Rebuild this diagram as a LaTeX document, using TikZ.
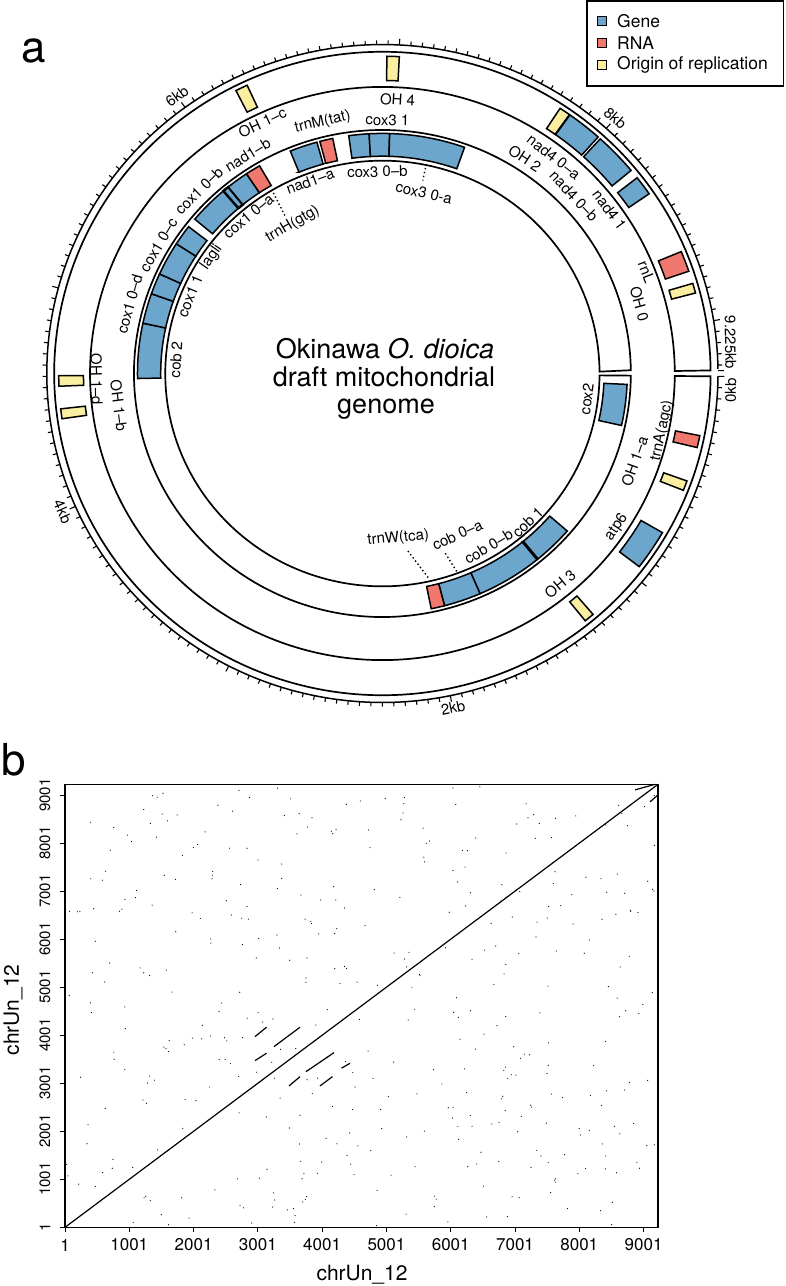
\documentclass[tikz,border=0pt]{standalone}
\usepackage{fontspec}
\setmainfont{TeX Gyre Heros}
\definecolor{gene}{RGB}{108,166,205}
\definecolor{rna}{RGB}{241,120,110}
\definecolor{ori}{RGB}{250,238,160}
\newcommand\clab[5][]{%
  \pgfmathsetmacro\labrot{mod(630-#3,360)}%
  \pgfmathsetmacro\labrot{\labrot>270 ? \labrot-360 : (\labrot>90 ? \labrot-180 : \labrot)}%
  \node[lbl,rotate=\labrot,#1] (#2) at (#3:#4) {#5};%
}
\newcommand\ibox[4][]{%
  \draw[gb,fill=#2,#1] (#3:219.5) -- plot[domain=0:1,samples=14] ({#3+(#4-#3)*\x}:242.5) -- plot[domain=0:1,samples=14] ({#4-(#4-#3)*\x}:219.5) -- cycle;%
}
\newcommand\obox[4][]{%
  \draw[gb,fill=#2,#1] (#3:296) -- plot[domain=0:1,samples=14] ({#3+(#4-#3)*\x}:320.5) -- plot[domain=0:1,samples=14] ({#4-(#4-#3)*\x}:296) -- cycle;%
}
\begin{document}
\begin{tikzpicture}[x=1pt,y=-1pt,
  lbl/.style={font=\fontsize{15}{17}\selectfont,inner sep=0pt},
  gb/.style={draw=black,line width=1.5pt,line join=miter},
  trk/.style={draw=black,line width=1.7pt},
  tk/.style={line width=1.1pt},
  lead/.style={line width=1.4pt,dash pattern=on 1.4pt off 2.6pt},
  lsq/.style={draw=black,line width=1pt,minimum size=9pt,inner sep=0pt},
  ltx/.style={font=\fontsize{17.5}{20}\selectfont,inner sep=0pt,anchor=west},
  ctx/.style={font=\fontsize{27}{28}\selectfont,inner sep=0pt,anchor=base},
  xt/.style={font=\fontsize{17}{18}\selectfont,inner sep=0pt},
  yt/.style={font=\fontsize{15}{16}\selectfont,inner sep=0pt,rotate=90},
  axt/.style={font=\fontsize{21}{22}\selectfont,inner sep=0pt}]
\useasboundingbox (0,0) rectangle (785,1286);

% panel letters
\node[font=\fontsize{44}{44}\selectfont,anchor=base west,inner sep=0pt] (pa) at (21,62) {a};
\node[font=\fontsize{44}{44}\selectfont,anchor=base west,inner sep=0pt] (pb) at (1,775) {b};

% legend
\draw[line width=1.3pt] (587,1) rectangle (783.5,86);
\node[lsq,fill=gene] (sq1) at (602,21) {};
\node[lsq,fill=rna] (sq2) at (602,43) {};
\node[lsq,fill=ori] (sq3) at (602,65) {};
\node[ltx] (lg1) at (617,21) {Gene};
\node[ltx] (lg2) at (617,43) {RNA};
\node[ltx] (lg3) at (617,65) {Origin of replication};

\begin{scope}[shift={(382.4,373.5)},xscale=1.01,yscale=0.99]
  % tracks
  \draw[trk] (0.5:215) -- plot[domain=0:1,samples=240] ({0.5+359*\x}:246) -- (359.5:215) -- plot[domain=0:1,samples=240] ({359.5-359*\x}:215) -- cycle;
  \draw[trk] (0.5:289.5) -- plot[domain=0:1,samples=260] ({0.5+359*\x}:325) -- (359.5:289.5) -- plot[domain=0:1,samples=260] ({359.5-359*\x}:289.5) -- cycle;
  % axis
  \draw[line width=1.5pt] plot[domain=0:1,samples=300] ({0.5+359*\x}:332.3);
  \foreach \i in {0,...,184} {
    \pgfmathsetmacro\th{0.5+\i*1.945799}
    \pgfmathsetmacro\tl{mod(\i,20)==0 ? 338.5 : 336.5}
    \draw[tk] (\th:332.3) -- (\th:\tl);
  }
  \draw[tk] (359.5:332.3) -- (359.5:338);

  % inner track boxes
  \ibox{gene}{2.6}{12.5}
  \ibox{gene}{41.0}{50.7}
  \ibox{gene}{50.7}{66.5}
  \ibox{gene}{66.5}{75.3}
  \ibox{rna}{75.3}{78.5}
  \draw[line width=3pt] (50.7:219.5) -- (50.7:242.5);
  \ibox{gene}{178.8}{192.1}
  \ibox{gene}{192.1}{199.4}
  \ibox{gene}{199.4}{204.5}
  \ibox{gene}{204.5}{212.7}
  \ibox{gene}{212.7}{217.7}
  \ibox{gene}{220.0}{229.5}
  \ibox[line width=2.4pt]{gene}{229.5}{231.0}
  \ibox{gene}{231.0}{236.3}
  \ibox{rna}{236.3}{239.9}
  \ibox{gene}{247.9}{254.5}
  \ibox{rna}{255.2}{258.3}
  \ibox{gene}{262.1}{266.9}
  \ibox{gene}{266.9}{271.7}
  \ibox{gene}{271.7}{289.6}

  % outer track boxes
  \obox{rna}{11.3}{13.5}
  \obox{ori}{19.8}{21.6}
  \obox{gene}{30.1}{37.5}
  \obox{ori}{49.4}{51.2}
  \obox{ori}{171.8}{173.6}
  \obox{ori}{177.7}{179.6}
  \obox{ori}{243.1}{245.3}
  \obox{ori}{270.8}{273.0}
  \obox{ori}{303.3}{305.3}
  \obox{gene}{305.4}{311.8}
  \obox{gene}{312.3}{320.2}
  \obox{gene}{321.9}{325.5}
  \obox{rna}{337.4}{341.2}
  \obox{ori}{343.5}{345.3}

  % outer track labels
  \clab{lOHfour}{273.1}{277}{OH 4}
  \clab{lOHonec}{244.9}{280}{OH 1–c}
  \clab{lOHtwo}{303.0}{259}{OH 2}
  \clab{lnadfa}{307.8}{277}{nad4 0–a}
  \clab{lnadfb}{316.6}{261}{nad4 0–b}
  \clab{lnadfone}{323.7}{279}{nad4 1}
  \clab{lrnL}{338.6}{281}{rnL}
  \clab{lOHzero}{344.6}{264}{OH 0}
  \clab{ltrnA}{11.8}{283}{trnA(agc)}
  \clab{lOHonea}{19.6}{265}{OH 1–a}
  \clab{latp}{33.8}{279}{atp6}
  \clab{lOHthree}{50.4}{276}{OH 3}
  \clab{lOHoned}{178.8}{283}{OH 1–d}
  \clab{lOHoneb}{172.9}{263}{OH 1–b}

  % inner track labels
  \clab{lcoxthreeone}{271.1}{256}{cox3 1}
  \clab{ltrnM}{256.9}{261}{trnM(tat)}
  \clab{lnadoneb}{238.9}{258}{nad1–b}
  \clab{lcoxob}{225.5}{259}{cox1 0–b}
  \clab{lcoxoc}{210.4}{257}{cox1 0–c}
  \clab{lcoxod}{195.7}{260}{cox1 0–d}
  \clab{lnadonea}{249.8}{207}{nad1–a}
  \clab{lcoxtb}{268.6}{204}{cox3 0–b}
  \clab{lcoxta}{282.7}{187}{cox3 0-a}
  \clab{lcoxoa}{230.2}{207}{cox1 0–a}
  \clab{ltrnH}{239.5}{175}{trnH(gtg)}
  \clab{llagli}{214.8}{206}{lagli}
  \clab{lcoxoneone}{202.4}{206}{cox1 1}
  \clab{lcobtwo}{183.9}{205}{cob 2}
  \clab{lcoxtwo}{7.3}{204}{cox2}
  \clab{lcobone}{46.2}{208}{cob 1}
  \clab{lcobzb}{59.0}{204}{cob 0–b}
  \clab{lcobza}{65.5}{179}{cob 0–a}
  \clab{ltrnW}{84.6}{167}{trnW(tca)}

  % leaders
  \coordinate (ca1) at (281.6:216); \coordinate (ca2) at (281.6:199);
  \coordinate (ha1) at (239.4:212); \coordinate (ha2) at (238.8:186);
  \coordinate (ba1) at (69.8:213);  \coordinate (ba2) at (71.2:190);
  \coordinate (wa1) at (77.6:211);  \coordinate (wa2) at (82:181);
  \draw[lead] (ca1) -- (ca2);
  \draw[lead] (ha1) -- (ha2);
  \draw[lead] (ba1) -- (ba2);
  \draw[lead] (wa1) -- (wa2);

  % axis labels
  \clab{ktwo}{78.3}{345}{2kb}
  \clab{kfour}{156.2}{346}{4kb}
  \clab{ksix}{234.0}{346}{6kb}
  \clab{keight}{311.8}{346}{8kb}
  \clab[anchor=east]{kend}{359.3}{345}{9.225kb}
  \clab[anchor=east]{kzero}{0.8}{345}{0kb}
\end{scope}

% centre title
\node[ctx] (tt1) at (385,358) {Okinawa \textit{O. dioica}};
\node[ctx] (tt2) at (384,386) {draft mitochondrial};
\node[ctx] (tt3) at (386,413) {genome};

% ---------- panel b ----------
\begin{scope}[shift={(65,1227.3)},x=0.06428pt,y=0.04802pt]
  \draw[line width=1.2pt] (0,0) rectangle (9225,9225);
  \draw[line width=1.2pt] (0,0) -- (9225,9225);
  \foreach \a/\b/\c/\d in {2956/3971/3135/4167, 3251/3763/3656/4167, 2956/3471/3135/3625,
      3485/2944/3656/3138, 3749/3242/4185/3638, 3967/2944/4161/3138, 4301/3313/4434/3417,
      8868/9110/9179/9225, 9101/8860/9225/9006}
    \draw[line width=1.2pt] (\a,\b) -- (\c,\d);
  \foreach \v in {1,1001,...,9001} {
    \draw[line width=1pt] (\v-1,0) -- ++(0pt,-5pt);
    \node[xt] (xl\v) at ([yshift=-17.7pt]\v-1,0) {\v};
    \draw[line width=1pt] (0,\v-1) -- ++(-5pt,0pt);
    \node[yt] (yl\v) at ([xshift=-20pt]0,\v-1) {\v};
  }
  \pgfmathsetseed{20240}
  \foreach \k in {1,...,430} {
    \pgfmathsetmacro\rx{rnd*9180+20}
    \pgfmathsetmacro\ry{rnd*9180+20}
    \fill (\rx,\ry) circle[radius=0.6pt];
  }
\end{scope}
\node[axt] (xlab) at (362,1275) {chrUn\_12};
\node[axt,rotate=90] (ylab) at (13,1010) {chrUn\_12};
\end{tikzpicture}
\end{document}
